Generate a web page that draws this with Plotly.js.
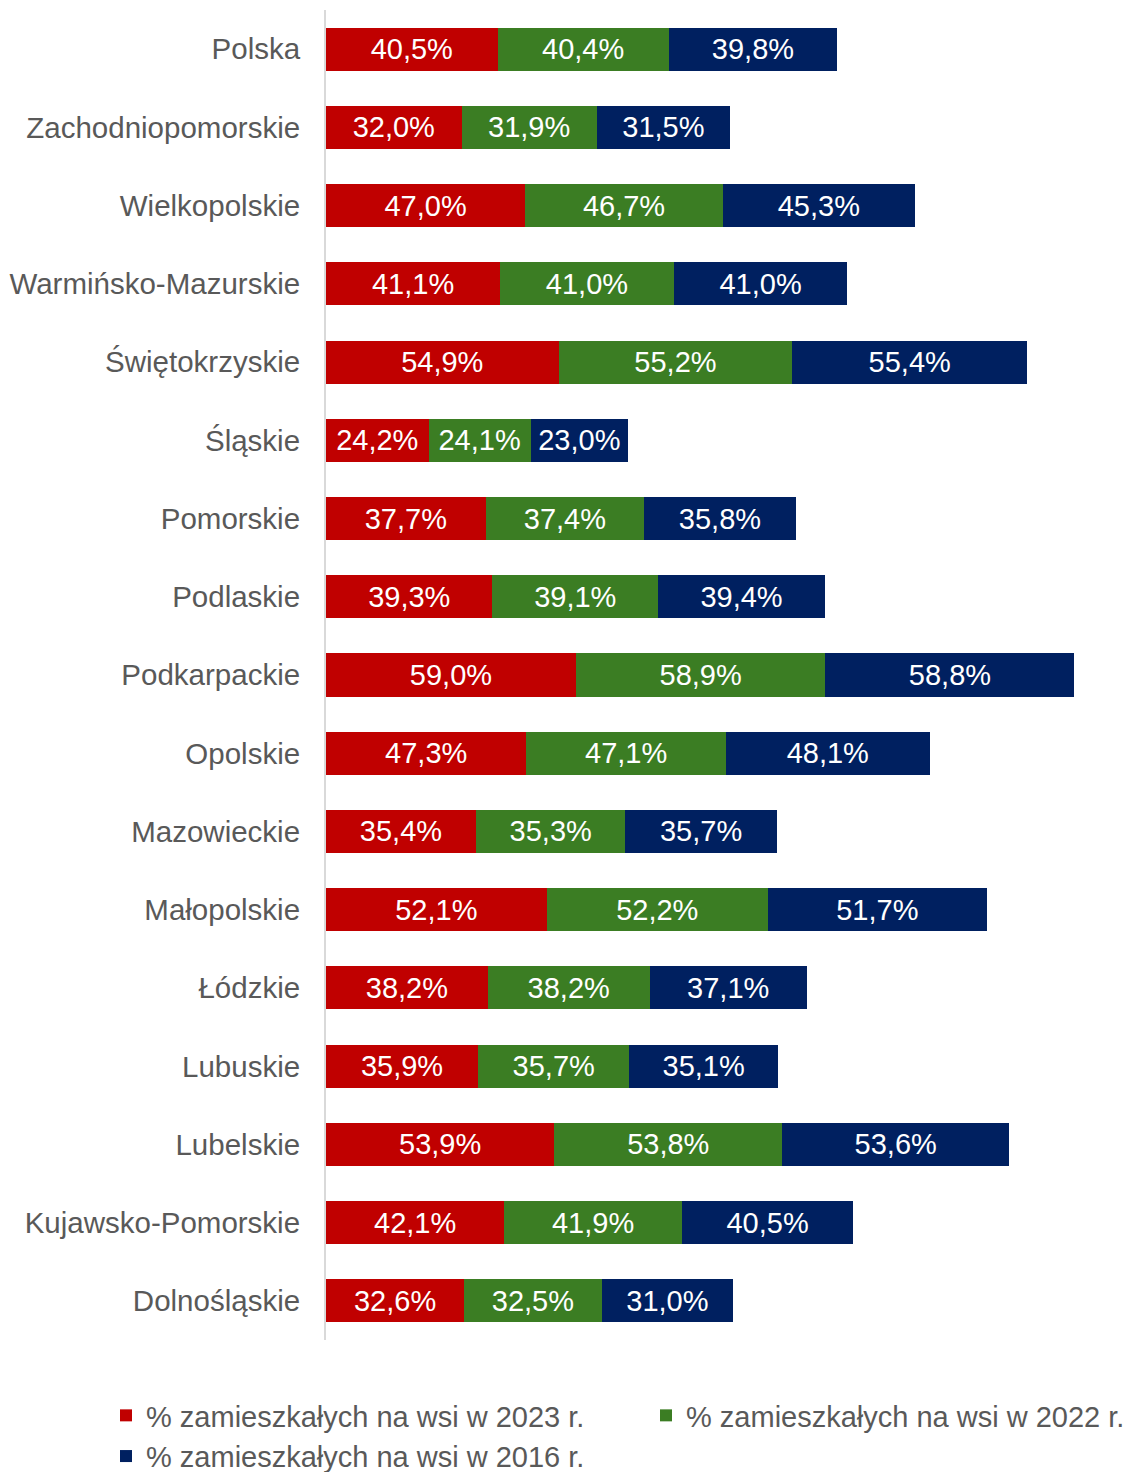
<!DOCTYPE html>
<html>
<head>
<meta charset="utf-8">
<script src="https://cdn.plot.ly/plotly-3.0.1.min.js"></script>
<style>html,body{margin:0;padding:0;background:#fff;}#chart{width:1127px;height:1472px;}</style>
</head>
<body>
<div id="chart"></div>
<script>
const regions = ["Polska","Zachodniopomorskie","Wielkopolskie","Warmińsko-Mazurskie","Świętokrzyskie","Śląskie","Pomorskie","Podlaskie","Podkarpackie","Opolskie","Mazowieckie","Małopolskie","Łódzkie","Lubuskie","Lubelskie","Kujawsko-Pomorskie","Dolnośląskie"];
const v2023 = [40.5,32.0,47.0,41.1,54.9,24.2,37.7,39.3,59.0,47.3,35.4,52.1,38.2,35.9,53.9,42.1,32.6];
const v2022 = [40.4,31.9,46.7,41.0,55.2,24.1,37.4,39.1,58.9,47.1,35.3,52.2,38.2,35.7,53.8,41.9,32.5];
const v2016 = [39.8,31.5,45.3,41.0,55.4,23.0,35.8,39.4,58.8,48.1,35.7,51.7,37.1,35.1,53.6,40.5,31.0];
const seriesNames = ["% zamieszkałych na wsi w 2023 r.","% zamieszkałych na wsi w 2022 r.","% zamieszkałych na wsi w 2016 r."];
const colors = ["#C00000","#3B7D23","#002060"];
const legendIds = ["legend","legend2","legend"];
const FONT = "Arial, 'Liberation Sans', sans-serif";

const series = [v2023, v2022, v2016];
const traces = series.map((vals, i) => ({
  type: 'bar',
  orientation: 'h',
  name: seriesNames[i],
  legend: legendIds[i],
  legendgroup: 'g' + i,
  y: regions,
  x: vals,
  marker: {color: colors[i], line: {width: 0}},
  texttemplate: '%{x:.1f}%',
  textposition: 'inside',
  insidetextanchor: 'middle',
  textangle: 0,
  constraintext: 'none',
  insidetextfont: {color: '#FFFFFF', size: 29, family: FONT},
  hoverinfo: 'skip'
}));

const legendFont = {family: FONT, size: 29, color: '#595959'};
const layout = {
  width: 1127,
  height: 1472,
  barmode: 'stack',
  bargap: 0.45,
  separators: ', ',
  paper_bgcolor: '#FFFFFF',
  plot_bgcolor: '#FFFFFF',
  font: {family: FONT, size: 29, color: '#595959'},
  margin: {l: 326, r: 0, t: 10, b: 132, autoexpand: false},
  xaxis: {range: [0, 189.1], showticklabels: false, showgrid: false, zeroline: false, showline: false, fixedrange: true},
  yaxis: {autorange: 'reversed', type: 'category', showline: true, linecolor: '#D9D9D9', linewidth: 2,
          ticks: '', ticklabelstandoff: 18, showgrid: false, zeroline: false, automargin: false,
          tickfont: {family: FONT, size: 29.5, color: '#595959'}},
  showlegend: true,
  legend: {orientation: 'v', xref: 'container', yref: 'container', x: 106/1127, xanchor: 'left',
           y: 1 - 1390/1472, yanchor: 'top', tracegroupgap: 3,
           traceorder: 'normal', font: legendFont, bgcolor: 'rgba(0,0,0,0)'},
  legend2: {orientation: 'v', xref: 'container', yref: 'container', x: 646/1127, xanchor: 'left',
           y: 1 - 1390/1472, yanchor: 'top',
           font: legendFont, bgcolor: 'rgba(0,0,0,0)'}
};

Plotly.newPlot('chart', traces, layout, {displayModeBar: false, staticPlot: true});
</script>
</body>
</html>
